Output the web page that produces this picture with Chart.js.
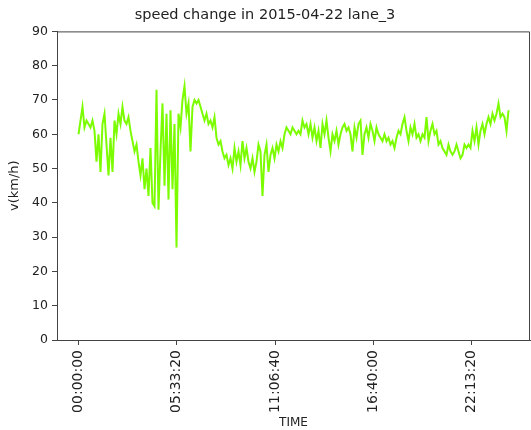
<!DOCTYPE html>
<html>
<head>
<meta charset="utf-8">
<script src="https://cdn.jsdelivr.net/npm/chart.js@4/dist/chart.umd.min.js"></script>
<style>
  html, body { margin: 0; padding: 0; background: #fff; }
  #wrap { width: 531px; height: 430px; }
</style>
</head>
<body>
<div id="wrap"><canvas id="c" width="531" height="430"></canvas></div>
<script>
// Lane 3 speed readings over one day, sampled every 407 s from midnight
const sampleStartSec = 0;
const sampleStepSec = 407;
const speedKmh = [
  60, 64, 68, 62, 64, 63, 62, 64, 61, 52,
  60, 49, 63, 66, 57, 48, 59, 49, 64, 60,
  66, 63, 68, 64, 63, 65, 61, 58, 55, 57,
  52, 48, 53, 44, 50, 42, 56, 40, 39, 73,
  38, 55, 69, 45, 66, 41, 67, 44, 63, 27,
  66, 62, 70, 74, 66, 69, 55, 68, 70, 69,
  70, 68, 66, 64, 66, 63, 64, 62, 65, 59,
  57, 58, 55, 53, 54, 51, 53, 50, 56, 52,
  55, 51, 58, 53, 56, 52, 50, 53, 49, 52,
  57, 55, 42, 54, 57, 49, 54, 56, 53, 57,
  55, 58, 56, 60, 62, 61, 60, 62, 61, 60,
  61, 60, 64, 62, 63, 60, 63, 59, 62, 58,
  61, 56, 63, 60, 64, 59, 55, 60, 58, 61,
  57, 60, 62, 63, 61, 62, 60, 55, 62, 59,
  63, 64, 54, 60, 62, 59, 63, 61, 58, 62,
  60, 59, 58, 60, 58, 59, 57, 58, 56, 59,
  61, 60, 63, 65, 61, 58, 62, 60, 63, 59,
  60, 58, 60, 59, 65, 58, 61, 63, 60, 61,
  57, 58, 56, 55, 54, 57, 55, 54, 55, 57,
  55, 53, 54, 57, 56, 57, 56, 61, 58, 62,
  57, 61, 63, 60, 63, 65, 63, 66, 64, 66,
  69, 65, 66, 65, 61, 67
];
const timeTickSec = [0, 20000, 40000, 60000, 80000];
const speedTicks = [0, 10, 20, 30, 40, 50, 60, 70, 80, 90];

const points = speedKmh.map((v, i) => ({ x: sampleStartSec + i * sampleStepSec, y: v }));
const lastSec = points[points.length - 1].x;
const xMargin = lastSec * 0.05;

function hms(sec) {
  const h = Math.floor(sec / 3600);
  const m = Math.floor((sec % 3600) / 60);
  const s = Math.round(sec % 60);
  const p = n => String(n).padStart(2, '0');
  return p(h) + ':' + p(m) + ':' + p(s);
}

// Closes the plot frame on the top and right sides
const frame = {
  id: 'frame',
  afterDraw(chart) {
    const { ctx, chartArea: a } = chart;
    ctx.save();
    ctx.strokeStyle = '#444';
    ctx.lineWidth = 1;
    ctx.beginPath();
    ctx.moveTo(a.left, a.top + 0.5);
    ctx.lineTo(a.right - 0.5, a.top + 0.5);
    ctx.lineTo(a.right - 0.5, a.bottom);
    ctx.stroke();
    ctx.restore();
  }
};

const font = 'DejaVu Sans';
new Chart(document.getElementById('c'), {
  type: 'line',
  data: {
    datasets: [{
      data: points,
      borderColor: '#7CFC00',
      borderWidth: 2,
      pointRadius: 0,
      tension: 0,
      fill: false
    }]
  },
  options: {
    responsive: false,
    animation: false,
    parsing: false,
    layout: { padding: { left: 0, right: 1, top: 0, bottom: 0 } },
    plugins: {
      legend: { display: false },
      tooltip: { enabled: false },
      title: {
        display: true,
        text: 'speed change in 2015-04-22 lane_3',
        color: '#222',
        font: { family: font, size: 14.5, weight: 'normal' },
        padding: { top: 7, bottom: 7 }
      }
    },
    scales: {
      x: {
        type: 'linear',
        min: -xMargin,
        max: lastSec + xMargin,
        afterBuildTicks(scale) {
          scale.ticks = timeTickSec.map(v => ({ value: v }));
        },
        afterFit(scale) { scale.height = 90; },
        ticks: {
          callback: v => hms(v),
          minRotation: 90,
          maxRotation: 90,
          color: '#222',
          padding: 5,
          font: { family: font, size: 14 }
        },
        grid: { drawOnChartArea: false, drawTicks: true, tickLength: 5, color: '#444' },
        border: { display: true, color: '#444', width: 1 },
        title: {
          display: true,
          text: 'TIME',
          color: '#222',
          font: { family: font, size: 12 },
          padding: { top: 0, bottom: 0 }
        }
      },
      y: {
        min: 0,
        max: 90,
        afterBuildTicks(scale) {
          scale.ticks = speedTicks.map(v => ({ value: v }));
        },
        afterFit(scale) { scale.width = 57; },
        ticks: {
          color: '#222',
          padding: 4,
          font: { family: font, size: 12.5 }
        },
        grid: { drawOnChartArea: false, drawTicks: true, tickLength: 5, color: '#444' },
        border: { display: true, color: '#444', width: 1 },
        title: {
          display: true,
          text: 'v(km/h)',
          color: '#222',
          font: { family: font, size: 13 },
          padding: { top: 7, bottom: 0 }
        }
      }
    }
  },
  plugins: [frame]
});
</script>
</body>
</html>
